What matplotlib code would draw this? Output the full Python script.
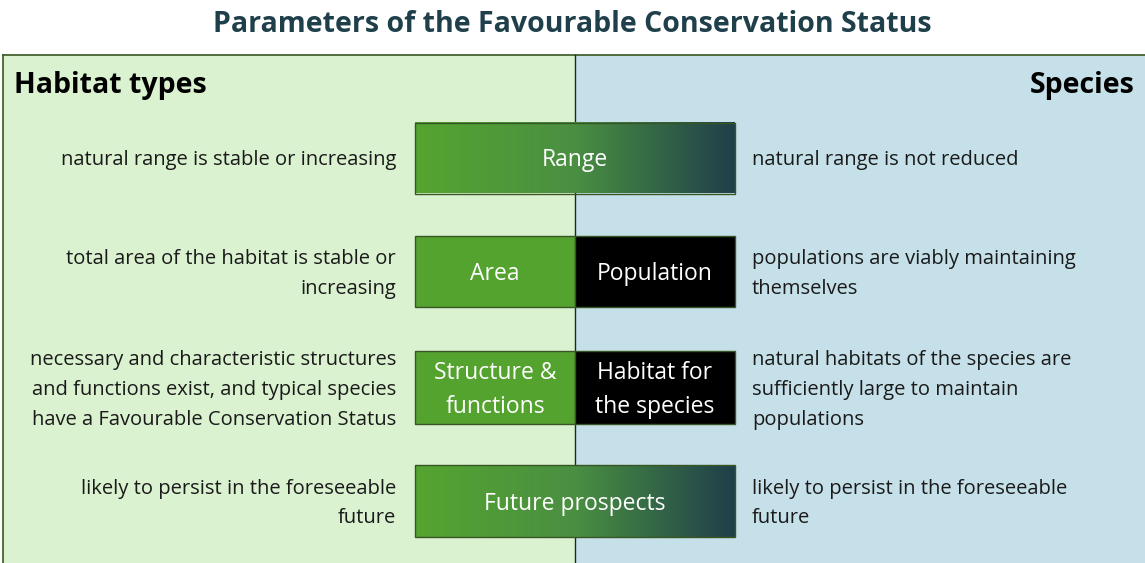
import numpy as np
import matplotlib.pyplot as plt
from matplotlib.patches import Rectangle
from matplotlib.colors import LinearSegmentedColormap

plt.rcParams['font.family'] = ['Open Sans', 'DejaVu Sans']

title = 'Parameters of the Favourable Conservation Status'
left_head = 'Habitat types'
right_head = 'Species'

# one entry per row: habitat parameter, species parameter (None = shared box)
hab_params = ['Range', 'Area', 'Structure &\nfunctions', 'Future prospects']
spc_params = [None, 'Population', 'Habitat for\nthe species', None]
hab_text = ['natural range is stable or increasing',
            'total area of the habitat is stable or\nincreasing',
            'necessary and characteristic structures\nand functions exist, and typical species\nhave a Favourable Conservation Status',
            'likely to persist in the foreseeable\nfuture']
spc_text = ['natural range is not reduced',
            'populations are viably maintaining\nthemselves',
            'natural habitats of the species are\nsufficiently large to maintain\npopulations',
            'likely to persist in the foreseeable\nfuture']

W, H = 1145, 563
fig = plt.figure(figsize=(W / 100, H / 100), dpi=100)
ax = fig.add_axes([0, 0, 1, 1])
ax.set_xlim(0, W)
ax.set_ylim(H, 0)
ax.axis('off')

# background panels
mid = 575
top = 55
ax.add_patch(Rectangle((3, top), mid - 3, H - top, fc='#DAF2D0', ec='none'))
ax.add_patch(Rectangle((mid, top), W - mid, H - top, fc='#C5E0E8', ec='none'))
ax.plot([3, W], [top, top], color='#375623', lw=1.2)
ax.plot([3, 3], [top, H], color='#375623', lw=1.2)
ax.plot([mid, mid], [top, H], color='#1a2a1a', lw=1)

ax.text(W / 2, 25, title, ha='center', va='center', fontsize=20.5,
        fontweight='bold', color='#1F3F4A')
ax.text(14, 85, left_head, ha='left', va='center', fontsize=20.5, fontweight='bold', color='black')
ax.text(1135, 85, right_head, ha='right', va='center', fontsize=20.5, fontweight='bold', color='black')

green = '#55A32F'
cmap = LinearSegmentedColormap.from_list('g', ['#55A52F', '#4A8F42', '#1F3F4A'])
grad = np.linspace(0, 1, 256).reshape(1, -1)

bx0, bx1 = 415, 735
row_y = [158, 271.5, 387.5, 501]
row_h = [71, 71, 73, 72]
edge = '#375623'
dy = 2.5  # nudge text down a little

for i in range(len(hab_params)):
    yc, h = row_y[i], row_h[i]
    y0 = yc - h / 2
    ty = yc + dy
    if spc_params[i] is None:
        ax.imshow(grad, cmap=cmap, aspect='auto', extent=(bx0, bx1, y0 + h, y0), zorder=2)
        ax.add_patch(Rectangle((bx0, y0), bx1 - bx0, h, fc='none', ec=edge, lw=1, zorder=3))
        ax.text((bx0 + bx1) / 2, ty, hab_params[i], ha='center', va='center',
                fontsize=16.5, color='white', zorder=4)
    else:
        ax.add_patch(Rectangle((bx0, y0), mid - bx0, h, fc=green, ec=edge, lw=1, zorder=3))
        ax.add_patch(Rectangle((mid, y0), bx1 - mid, h, fc='black', ec=edge, lw=1, zorder=3))
        ax.text((bx0 + mid) / 2, ty, hab_params[i], ha='center', va='center',
                fontsize=16.5, color='white', linespacing=1.55, zorder=4)
        ax.text((mid + bx1) / 2, ty, spc_params[i], ha='center', va='center',
                fontsize=16.5, color='white', linespacing=1.55, zorder=4)
    ax.text(396, ty, hab_text[i], ha='right', va='center', fontsize=14.5,
            color='#1a1a1a', linespacing=1.65)
    ax.text(752, ty, spc_text[i], ha='left', va='center', fontsize=14.5,
            color='#1a1a1a', linespacing=1.65)
ax.set_xlim(0, W)
ax.set_ylim(H, 0)

fig.savefig('out.png', dpi=100)
